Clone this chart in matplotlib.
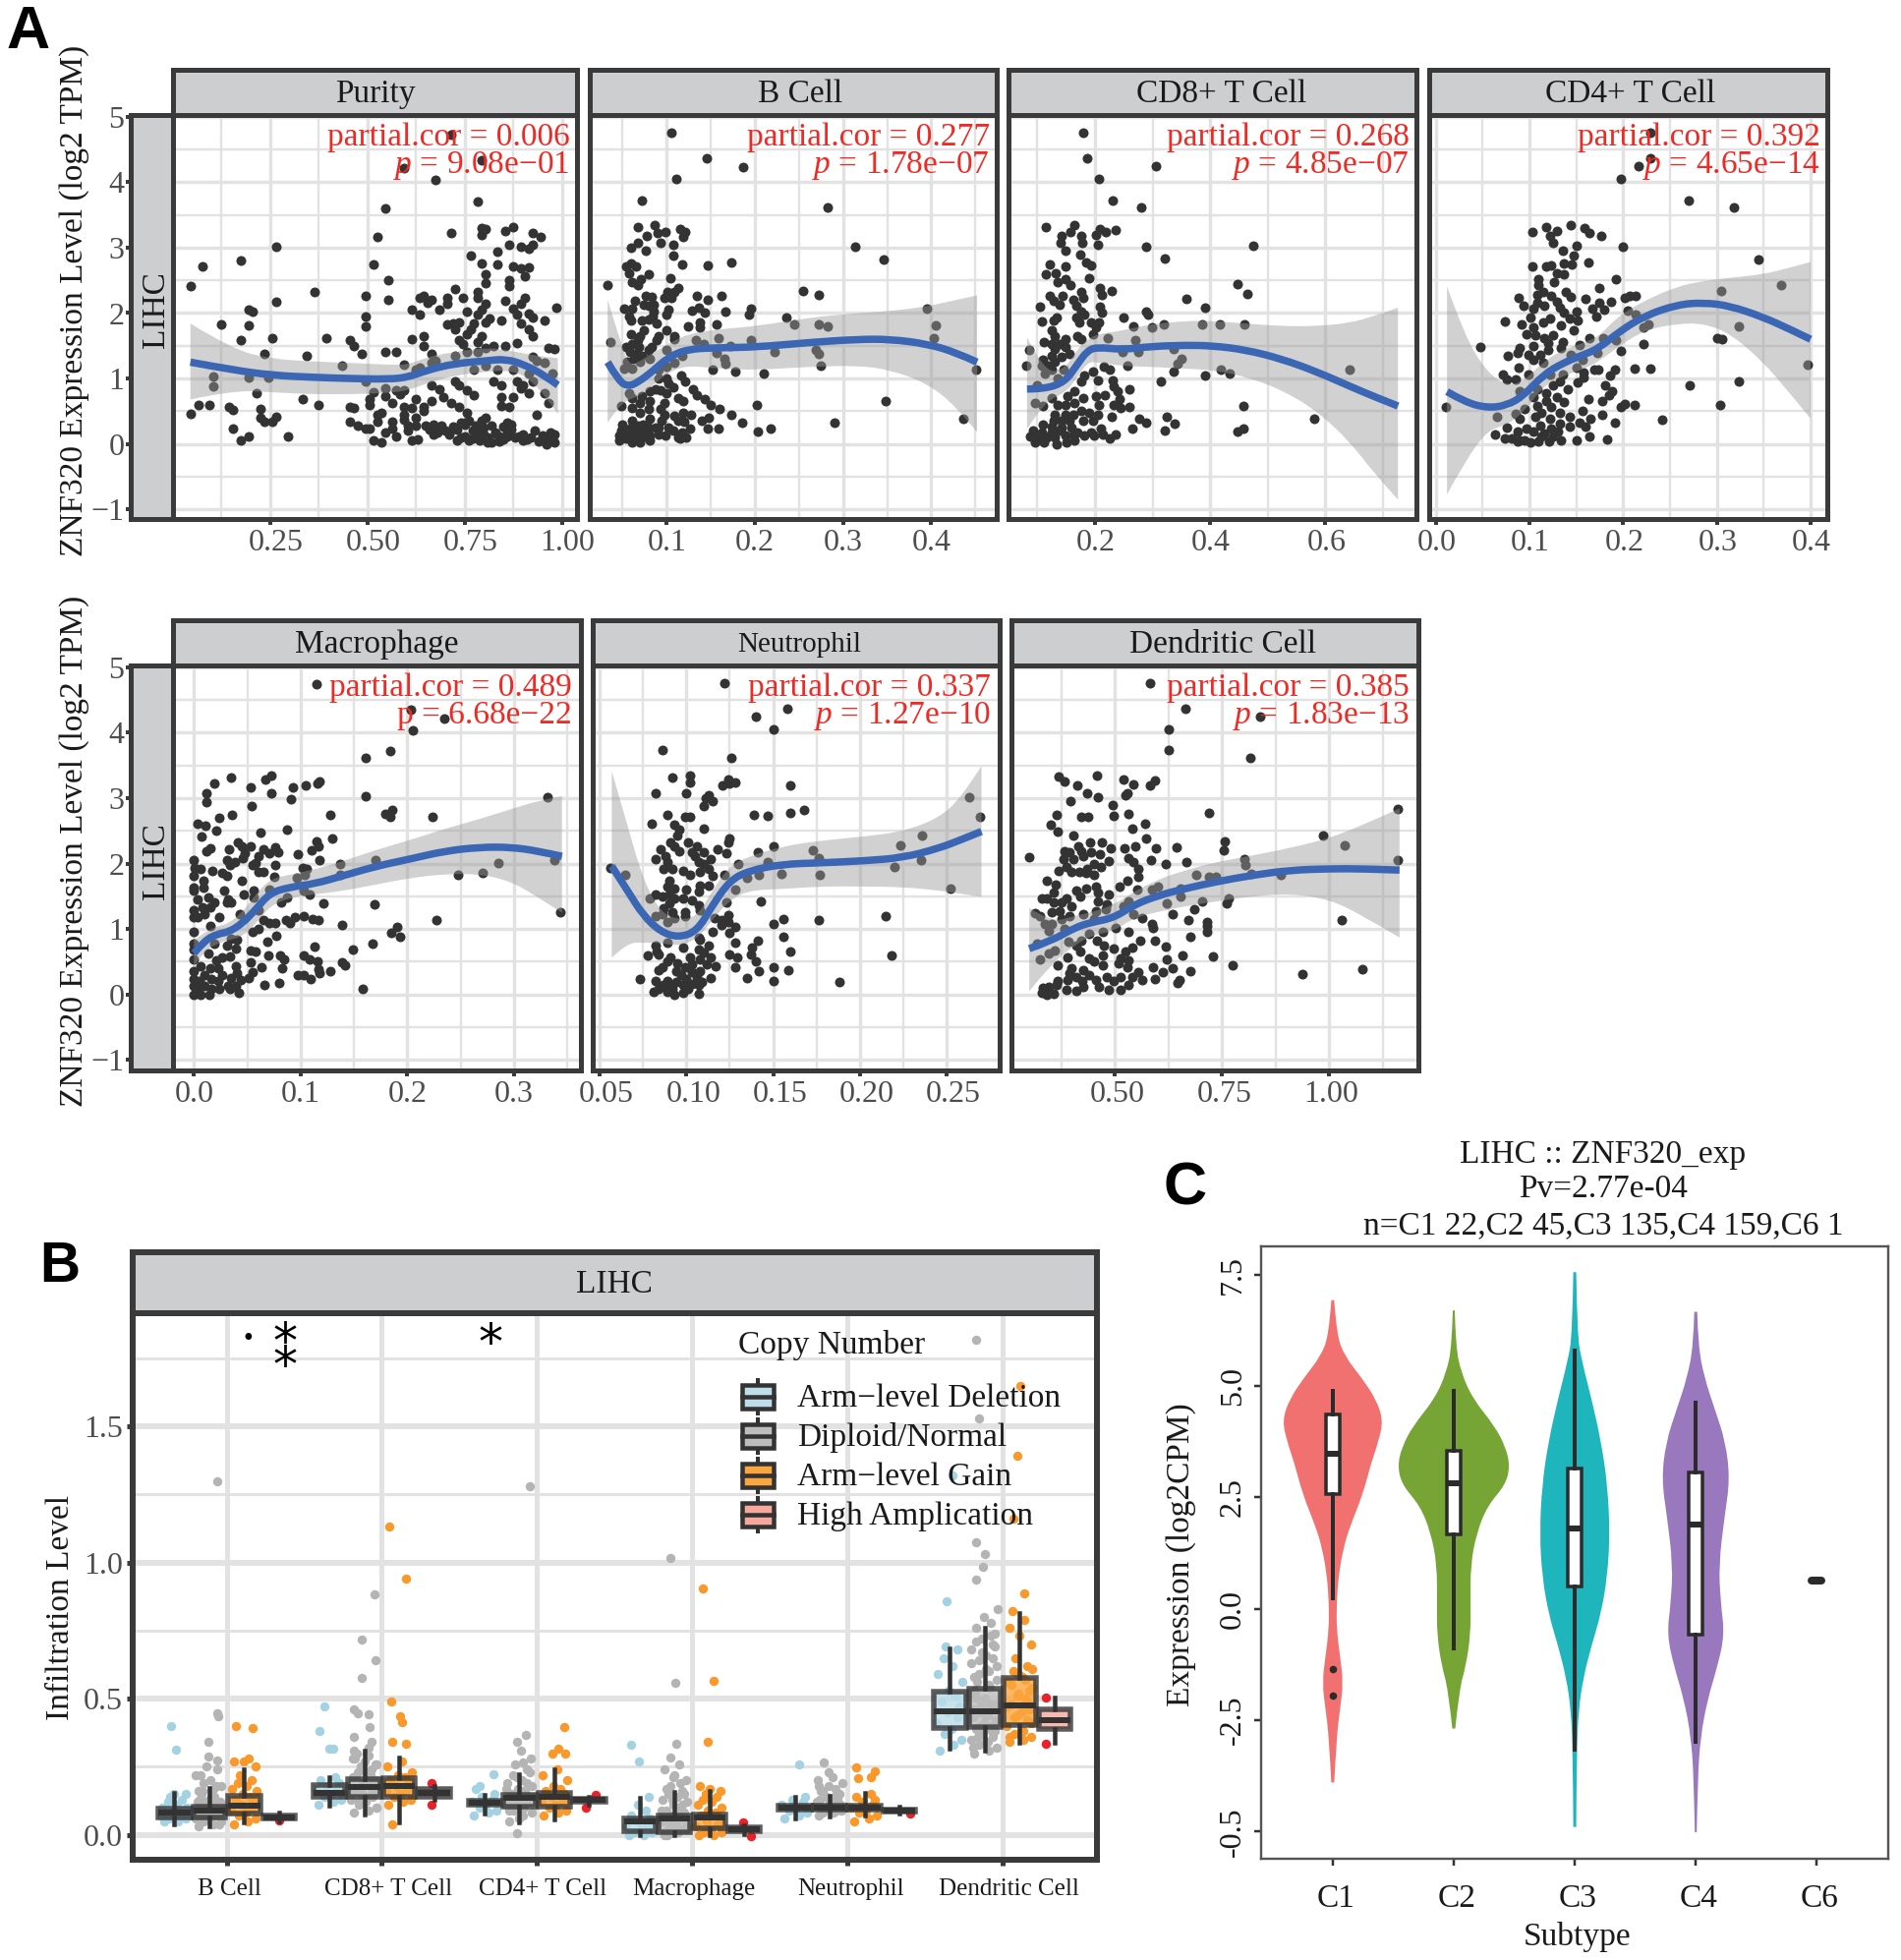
import matplotlib
matplotlib.use('Agg')
import matplotlib.pyplot as plt
from matplotlib.patches import Rectangle, PathPatch
from matplotlib.path import Path
from matplotlib.lines import Line2D
from matplotlib.transforms import ScaledTranslation

plt.rcParams['font.family'] = ['Liberation Serif', 'DejaVu Sans']
plt.rcParams['mathtext.fontset'] = 'custom'
plt.rcParams['mathtext.rm'] = 'Liberation Serif'
plt.rcParams['mathtext.it'] = 'Liberation Serif:italic'

# ---- panel A data
purity_pts = [(.045,2.42),(.075,2.71),(.045,.46),(.065,.59),(.095,.59),(.105,1.03),(.105,.88),(.125,1.82),(.145,.56),(.155,.52),(.155,.24),(.175,2.81),(.175,1.59),(.175,.06),(.195,2.06),(.205,2.02),(.195,1.81),(.195,.11),(.195,1.02),(.215,.78),(.225,.54),(.225,.4),(.235,1.38),(.235,.34),(.245,1.02),(.255,1.61),(.255,.34),(.265,3.01),(.265,2.18),(.265,.41),(.295,.11),(.335,.68),(.345,1.34),(.365,2.33),(.375,.6),(.395,1.61),(.435,1.2),(.455,1.59),(.465,1.5),(.485,1.38),(.455,.56),(.465,.55),(.455,.34),(.475,.28),(.495,2.27),(.495,1.94),(.495,1.8),(.495,.96),(.495,.23),(.505,.23),(.505,.59),(.515,2.74),(.525,3.16),(.545,3.6),(.555,2.51),(.555,2.2),(.545,1.41),(.575,1.41),(.595,4.21),(.675,4.03),(.715,4.72),(.795,4.34),(.785,3.7),(.715,3.22),(.795,3.3),(.805,3.28),(.795,3.19),(.855,3.25),(.875,3.32),(.925,3.22),(.945,3.16),(.865,3.05),(.835,2.94),(.895,3.02),(.925,3.05),(.915,2.98),(.765,2.88),(.795,2.76),(.835,2.74),(.875,2.71),(.915,2.7),(.895,2.68),(.805,2.6),(.805,2.46),(.865,2.51),(.865,2.42),(.905,2.57),(.725,2.37),(.785,2.32),(.785,2.23),(.745,2.24),(.635,2.24),(.645,2.26),(.665,2.21),(.655,2.16),(.705,2.23),(.705,2.15),(.615,2.06),(.635,1.98),(.685,2.05),(.755,2.03),(.805,2.15),(.795,2.05),(.785,1.97),(.855,2.19),(.905,2.23),(.895,2.15),(.875,2.07),(.885,1.98),(.985,2.09),(.915,1.99),(.925,1.93),(.955,1.88),(.895,1.84),(.915,1.75),(.925,1.65),(.845,1.88),(.815,1.91),(.805,1.86),(.775,1.84),(.765,1.75),(.705,1.82),(.72,1.84),(.735,1.85),(.725,1.75),(.755,1.67),(.795,1.64),(.785,1.55),(.615,1.6),(.645,1.65),(.645,1.5),(.735,1.58),(.745,1.53),(.665,1.38),(.755,1.41),(.805,1.47),(.825,1.49),(.855,1.5),(.885,1.54),(.965,1.47),(.98,1.45),(.725,1.34),(.785,1.41),(.595,1.21),(.665,1.24),(.675,1.27),(.625,1.13),(.635,1.16),(.775,1.13),(.805,1.19),(.835,1.13),(.875,1.13),(.925,1.33),(.935,1.27),(.955,1.24),(.975,1.07),(.915,1.07),(.825,.96),(.845,.89),(.885,.96),(.9,.9),(.925,.96),(.665,.9),(.725,.96),(.735,.9),(.755,.82),(.775,.75),(.685,.83),(.895,.85),(.915,.78),(.955,.78),(.875,.71),(.845,.72),(.695,.71),(.715,.63),(.735,.56),(.665,.65),(.645,.56),(.645,.5),(.625,.69),(.845,.58),(.865,.56),(.965,.62),(.935,.45),(.755,.48),(.805,.4),(.795,.36),(.515,.79),(.545,.85),(.575,.82),(.595,.82),(.505,.68),(.545,.73),(.585,.76),(.565,.62),(.595,.56),(.615,.55),(.535,.48),(.525,.45),(.595,.45),(.525,.34),(.565,.34),(.595,.37),(.625,.4),(.625,.28),(.605,.28),(.565,.23),(.545,.17),(.575,.11),(.605,.2),(.515,.06),(.535,.03),(.615,.06),(.63,.07),
    (.65,.28),(.66,.22),(.67,.3),(.68,.18),(.69,.25),(.70,.2),(.71,.15),(.72,.27),(.67,.14),(.69,.28),(.71,.17),(.73,.22),(.74,.1),(.75,.3),(.76,.05),(.77,.2),(.78,.12),(.79,.06),(.80,.25),(.81,.1),(.82,.02),(.83,.18),(.84,.04),(.85,.26),(.86,.12),(.87,.3),(.73,.05),(.75,.12),(.77,.08),(.79,.2),(.81,.03),(.83,.16),(.85,.07),(.87,.22),(.88,.1),(.89,.12),(.90,.15),(.91,.07),(.92,.1),(.93,.2),(.94,.04),(.95,.13),(.96,0),(.97,.18),(.98,.02),(.75,.32),(.78,.28),(.82,.28),(.86,.33),(.9,.05),(.95,.08),(.98,.15),(.74,.33),(.76,.35),(.8,.15),(.84,.12),(.86,.18),(.97,.07)]
purity_line_x = [.045,.155,.255,.355,.455,.555,.605,.655,.725,.805,.855,.905,.955,.99]
purity_fit = [1.25,1.13,1.05,1.02,1.0,.99,1.02,1.13,1.23,1.27,1.3,1.21,1.05,.9]
purity_hi = [1.84,1.44,1.3,1.26,1.24,1.21,1.21,1.33,1.41,1.47,1.44,1.38,1.33,1.31]
purity_lo = [.68,.82,.79,.76,.76,.78,.82,.93,1.05,1.1,1.13,1.05,.76,.46]

bcell_pts = [(.105,4.75),(.145,4.36),(.187,4.23),(.111,4.05),(.072,3.72),(.283,3.61),(.067,3.32),(.086,3.34),(.09,3.23),(.099,3.24),(.115,3.29),(.121,3.24),(.119,3.17),(.077,3.18),(.067,3.07),(.093,3.07),(.107,3.04),(.06,3.0),(.076,2.95),(.314,3.02),(.346,2.82),(.108,2.88),(.117,2.75),(.147,2.73),(.173,2.77),(.054,2.71),(.06,2.76),(.065,2.71),(.057,2.61),(.08,2.59),(.104,2.53),(.071,2.52),(.061,2.47),(.067,2.43),(.033,2.43),(.113,2.39),(.109,2.32),(.101,2.32),(.255,2.34),(.273,2.28),(.105,2.23),(.097,2.23),(.134,2.26),(.162,2.27),(.076,2.26),(.083,2.25),(.064,2.19),(.146,2.21),(.074,2.13),(.085,2.13),(.08,2.12),(.052,2.07),(.061,2.07),(.136,2.08),(.129,2.04),(.143,2.0),(.102,2.06),(.1,1.98),(.085,2.03),(.195,2.07),(.166,2.02),(.193,1.97),(.236,1.93),(.084,1.95),(.057,1.95),(.06,1.88),(.072,1.89),(.08,1.9),(.088,1.84),(.138,1.86),(.156,1.83),(.245,1.83),(.273,1.83),(.283,1.8),(.395,2.07),(.405,1.81),(.138,1.78),(.124,1.79),(.1,1.74),(.06,1.68),(.074,1.73),(.091,1.65),(.109,1.65),(.109,1.6),(.159,1.61),(.133,1.59),(.196,1.59),(.403,1.61),(.07,1.65),(.067,1.58),(.089,1.58),(.036,1.55),(.061,1.53),(.054,1.48),(.069,1.48),(.083,1.48),(.142,1.52),(.172,1.5),(.08,1.43),(.058,1.4),(.065,1.38),(.072,1.35),(.1,1.43),(.269,1.43),(.222,1.41),(.157,1.39),(.272,1.38),(.117,1.35),(.063,1.3),(.055,1.25),(.07,1.25),(.081,1.3),(.165,1.3),(.109,1.24),(.166,1.23),(.275,1.2),(.052,1.15),(.061,1.15),(.1,1.18),(.091,1.13),(.152,1.14),(.178,1.1),(.21,1.07),(.451,1.14),(.116,1.05),(.121,.95),(.091,1.0),(.1,1.0),(.102,.93),(.107,.86),(.13,.84),(.134,.75),(.087,.83),(.081,.8),(.093,.82),(.1,.77),(.057,.78),(.072,.73),(.113,.7),(.119,.65),(.143,.68),(.081,.65),(.061,.7),(.048,.58),(.061,.55),(.07,.63),(.097,.62),(.15,.6),(.16,.54),(.202,.6),(.348,.66),(.093,.53),(.08,.53),(.07,.48),(.097,.45),(.119,.48),(.128,.45),(.173,.45),(.109,.43),(.148,.4),(.14,.36),(.436,.39),(.081,.38),(.061,.35),(.094,.35),(.113,.35),(.12,.34),(.185,.33),(.29,.33),(.05,.3),(.073,.3),(.087,.25),(.102,.25),(.126,.24),(.146,.23),(.159,.24),(.218,.24),(.203,.19),(.048,.2),(.058,.23),(.067,.2),(.078,.2),(.108,.2),(.117,.18),(.046,.13),(.056,.13),(.063,.1),(.072,.1),(.081,.13),(.091,.15),(.098,.13),(.113,.1),(.122,.1),(.046,.05),(.054,.08),(.061,.02),(.07,.03),(.081,.05),(.115,.08),(.067,.28),(.08,.25),(.091,.25),(.058,.15),(.067,.13),(.074,.18)]
bcell_line_x = [.033,.046,.057,.068,.083,.102,.124,.157,.202,.261,.317,.354,.395,.428,.452]
bcell_fit = [1.25,.95,.88,.95,1.1,1.33,1.45,1.47,1.48,1.55,1.6,1.6,1.53,1.4,1.25]
bcell_hi = [2.2,1.63,1.2,1.25,1.38,1.53,1.68,1.75,1.8,1.93,2.0,2.03,2.1,2.2,2.27]
bcell_lo = [.33,.58,.68,.73,.88,1.1,1.2,1.15,1.13,1.18,1.2,1.13,.93,.58,.18]

cd8_pts = [(.18,4.75),(.186,4.36),(.305,4.24),(.207,4.05),(.231,3.72),(.28,3.62),(.114,3.32),(.164,3.34),(.157,3.24),(.142,3.18),(.176,3.18),(.201,3.2),(.209,3.29),(.219,3.24),(.236,3.27),(.14,3.07),(.178,3.07),(.205,3.05),(.149,2.95),(.289,3.01),(.475,3.03),(.322,2.83),(.175,2.89),(.121,2.75),(.149,2.71),(.185,2.78),(.194,2.73),(.115,2.6),(.132,2.61),(.189,2.53),(.148,2.52),(.135,2.48),(.158,2.43),(.447,2.44),(.209,2.39),(.229,2.34),(.212,2.28),(.464,2.29),(.176,2.32),(.179,2.24),(.144,2.26),(.122,2.26),(.128,2.19),(.162,2.21),(.358,2.22),(.139,2.13),(.168,2.12),(.105,2.1),(.391,2.08),(.209,2.1),(.212,2.0),(.288,2.02),(.292,1.97),(.176,2.03),(.182,1.98),(.249,1.93),(.168,1.93),(.133,1.93),(.107,1.87),(.128,1.88),(.173,1.85),(.194,1.85),(.207,1.85),(.266,1.8),(.299,1.78),(.319,1.82),(.386,1.83),(.417,1.83),(.46,1.83),(.202,1.78),(.125,1.73),(.196,1.68),(.17,1.65),(.13,1.65),(.176,1.6),(.222,1.61),(.27,1.59),(.148,1.6),(.112,1.55),(.125,1.53),(.139,1.53),(.148,1.48),(.13,1.45),(.086,1.43),(.336,1.45),(.247,1.41),(.275,1.41),(.156,1.38),(.125,1.35),(.142,1.33),(.35,1.3),(.11,1.28),(.13,1.25),(.344,1.22),(.108,1.2),(.119,1.2),(.081,1.2),(.256,1.2),(.216,1.18),(.225,1.14),(.642,1.14),(.418,1.14),(.125,1.13),(.145,1.14),(.196,1.1),(.113,1.08),(.337,1.1),(.434,1.07),(.391,1.04),(.182,1.05),(.136,1.0),(.176,.95),(.205,.97),(.23,.97),(.315,.95),(.099,.9),(.233,.88),(.239,.8),(.259,.83),(.165,.8),(.153,.73),(.217,.74),(.202,.73),(.179,.7),(.125,.7),(.242,.68),(.096,.63),(.109,.58),(.136,.6),(.148,.6),(.165,.63),(.458,.58),(.207,.6),(.233,.6),(.244,.55),(.259,.56),(.176,.5),(.19,.48),(.13,.45),(.148,.45),(.162,.45),(.205,.45),(.229,.42),(.324,.41),(.58,.39),(.276,.38),(.128,.35),(.142,.35),(.156,.35),(.179,.35),(.196,.35),(.289,.33),(.338,.31),(.11,.29),(.125,.27),(.142,.25),(.159,.25),(.21,.24),(.265,.24),(.457,.24),(.448,.19),(.321,.2),(.093,.21),(.108,.18),(.125,.18),(.139,.2),(.17,.18),(.193,.18),(.236,.15),(.213,.15),(.088,.12),(.102,.1),(.116,.1),(.13,.1),(.148,.13),(.162,.13),(.182,.13),(.199,.13),(.226,.08),(.096,.03),(.111,.02),(.133,0),(.15,.02),(.165,.05)]
cd8_line_x = [.082,.113,.148,.168,.187,.205,.247,.296,.358,.404,.461,.524,.586,.643,.683,.726]
cd8_fit = [.84,.84,.95,1.2,1.43,1.48,1.44,1.49,1.51,1.5,1.44,1.3,1.1,.88,.73,.58]
cd8_hi = [1.63,1.08,1.15,1.43,1.6,1.68,1.73,1.83,1.88,1.88,1.84,1.8,1.8,1.85,1.95,2.08]
cd8_lo = [.23,.65,.78,1.0,1.25,1.25,1.19,1.18,1.15,1.13,1.03,.83,.5,.03,-.43,-.85]

cd4_pts = [(.229,4.75),(.229,4.36),(.216,4.24),(.198,4.05),(.27,3.72),(.318,3.62),(.103,3.24),(.118,3.32),(.129,3.26),(.144,3.34),(.159,3.3),(.164,3.23),(.177,3.18),(.122,3.18),(.125,3.07),(.15,3.03),(.2,3.02),(.136,2.95),(.147,2.88),(.344,2.82),(.163,2.77),(.137,2.76),(.145,2.75),(.103,2.71),(.118,2.72),(.123,2.73),(.129,2.61),(.137,2.6),(.192,2.52),(.109,2.52),(.126,2.48),(.109,2.43),(.174,2.39),(.368,2.43),(.305,2.34),(.139,2.33),(.115,2.32),(.108,2.28),(.144,2.25),(.123,2.26),(.207,2.27),(.213,2.26),(.202,2.23),(.088,2.23),(.16,2.22),(.129,2.18),(.108,2.16),(.187,2.17),(.174,2.16),(.094,2.11),(.116,2.11),(.132,2.08),(.167,2.07),(.18,2.06),(.104,2.07),(.205,2.04),(.15,2.03),(.137,2.0),(.213,1.98),(.171,1.94),(.101,1.93),(.122,1.91),(.143,1.91),(.151,1.88),(.074,1.87),(.092,1.83),(.115,1.85),(.134,1.81),(.227,1.83),(.222,1.78),(.323,1.8),(.104,1.78),(.147,1.73),(.097,1.68),(.125,1.66),(.106,1.66),(.116,1.61),(.164,1.61),(.179,1.62),(.3,1.62),(.306,1.6),(.136,1.56),(.12,1.54),(.192,1.59),(.222,1.53),(.048,1.48),(.09,1.46),(.104,1.49),(.153,1.51),(.134,1.46),(.12,1.44),(.198,1.42),(.087,1.39),(.099,1.36),(.111,1.36),(.077,1.34),(.144,1.36),(.172,1.39),(.104,1.29),(.157,1.29),(.115,1.24),(.397,1.21),(.088,1.16),(.15,1.16),(.169,1.14),(.173,1.14),(.191,1.14),(.212,1.15),(.229,1.15),(.072,1.06),(.099,1.06),(.122,1.06),(.158,1.09),(.136,1.06),(.076,.98),(.085,.98),(.186,1.04),(.158,1.01),(.132,.96),(.151,.94),(.323,.96),(.271,.89),(.125,.89),(.181,.9),(.09,.81),(.141,.83),(.188,.81),(.108,.84),(.118,.78),(.185,.75),(.104,.71),(.129,.71),(.163,.69),(.178,.66),(.118,.66),(.137,.64),(.202,.61),(.212,.6),(.198,.56),(.303,.59),(.011,.57),(.108,.58),(.095,.54),(.123,.56),(.085,.46),(.113,.48),(.132,.47),(.157,.5),(.178,.44),(.065,.41),(.09,.38),(.106,.41),(.143,.41),(.165,.39),(.122,.38),(.242,.37),(.191,.32),(.153,.33),(.132,.31),(.076,.25),(.111,.28),(.143,.26),(.16,.26),(.097,.24),(.123,.24),(.063,.15),(.087,.19),(.104,.19),(.116,.16),(.13,.19),(.164,.11),(.074,.08),(.081,.09),(.09,.06),(.101,.03),(.109,.04),(.121,.04),(.134,.06),(.15,.05),(.183,.07),(.087,.04),(.095,.06),(.113,.11),(.125,.11)]
cd4_line_x = [.012,.031,.055,.076,.094,.115,.136,.157,.174,.195,.223,.258,.286,.314,.349,.377,.4]
cd4_fit = [.8,.64,.55,.59,.74,1.06,1.24,1.36,1.46,1.71,1.96,2.13,2.16,2.11,1.94,1.76,1.6]
cd4_hi = [2.41,1.64,1.09,.89,.96,1.26,1.44,1.54,1.64,1.96,2.19,2.41,2.49,2.54,2.59,2.69,2.78]
cd4_lo = [-.77,-.27,.21,.29,.49,.89,1.04,1.14,1.26,1.49,1.74,1.84,1.84,1.69,1.26,.79,.39]

macro_pts = [(.115,4.74),(.203,4.35),(.235,4.22),(.205,4.04),(.184,3.72),(.161,3.61),(.035,3.31),(.072,3.34),(.067,3.28),(.019,3.23),(.053,3.17),(.093,3.17),(.105,3.19),(.116,3.23),(.118,3.26),(.012,3.07),(.012,2.94),(.072,3.07),(.091,2.99),(.161,3.03),(.331,3.02),(.054,2.88),(.036,2.74),(.024,2.7),(.128,2.75),(.186,2.82),(.179,2.76),(.184,2.72),(.224,2.72),(.003,2.61),(.011,2.58),(.021,2.51),(.087,2.52),(.062,2.47),(.007,2.42),(.13,2.38),(.041,2.32),(.015,2.24),(.012,2.19),(.033,2.22),(.045,2.26),(.053,2.26),(.115,2.34),(.117,2.27),(.065,2.22),(.076,2.25),(.11,2.21),(.071,2.16),(.079,2.18),(.097,2.15),(.048,2.16),(.06,2.11),(.031,2.06),(.038,2.03),(.046,2.08),(0,2.05),(.118,2.05),(.058,2.01),(.034,1.98),(.076,1.97),(.055,1.98),(.137,1.99),(.17,2.05),(.285,2.01),(.338,2.06),(.001,1.93),(.006,1.91),(.017,1.88),(.026,1.86),(.06,1.87),(.065,1.87),(.102,1.93),(.106,1.92),(.248,1.83),(.271,1.85),(.137,1.83),(.096,1.78),(.104,1.82),(.075,1.79),(0,1.81),(.031,1.81),(.045,1.73),(.009,1.73),(.009,1.63),(0,1.63),(0,1.58),(.028,1.59),(.056,1.58),(.071,1.6),(.047,1.53),(.056,1.48),(.103,1.58),(.108,1.52),(.013,1.48),(.003,1.45),(.032,1.45),(.035,1.41),(.019,1.4),(.031,1.4),(.087,1.48),(.082,1.41),(.121,1.39),(.169,1.38),(.008,1.33),(.015,1.33),(0,1.28),(0,1.18),(.01,1.23),(.003,1.18),(.024,1.18),(.043,1.23),(.06,1.28),(.095,1.18),(.103,1.2),(.111,1.15),(.117,1.14),(.086,1.14),(.227,1.13),(.343,1.26),(.065,1.13),(.071,1.09),(.076,1.09),(.09,1.09),(.015,1.05),(.139,1.06),(.06,1.0),(.055,.95),(0,.95),(.19,1.03),(.185,.94),(.193,.88),(.077,.89),(.035,.85),(.069,.81),(.04,.83),(.019,.78),(0,.78),(.031,.74),(.167,.78),(.113,.73),(.039,.7),(.149,.69),(0,.68),(.053,.67),(.058,.66),(.013,.63),(.07,.59),(.081,.59),(.103,.6),(.026,.56),(.034,.58),(0,.53),(.084,.54),(.108,.54),(.116,.51),(.021,.52),(.053,.49),(.139,.49),(.142,.45),(.039,.43),(.006,.43),(.083,.4),(.063,.42),(.015,.4),(.023,.4),(0,.35),(.117,.39),(.128,.35),(.055,.34),(.04,.33),(.118,.32),(.097,.29),(.103,.3),(.01,.3),(.026,.3),(.051,.25),(.035,.25),(.109,.24),(0,.23),(.016,.23),(.044,.22),(.005,.2),(.023,.2),(.066,.14),(.08,.18),(.032,.13),(0,.13),(.01,.13),(.024,.08),(.039,.13),(.003,.08),(.016,.08),(.158,.08),(0,0),(.006,0),(.014,0),(.042,.03),(.034,.08)]
macro_line_x = [0,.01,.023,.032,.045,.058,.071,.09,.113,.139,.171,.203,.235,.268,.297,.323,.345]
macro_fit = [.63,.83,.93,.95,1.08,1.3,1.55,1.64,1.69,1.81,1.96,2.07,2.19,2.25,2.25,2.19,2.11]
macro_hi = [.83,.95,1.05,1.08,1.25,1.53,1.76,1.83,1.91,2.03,2.21,2.36,2.53,2.68,2.83,2.96,3.03]
macro_lo = [.43,.68,.78,.83,.88,1.08,1.35,1.48,1.53,1.58,1.68,1.78,1.84,1.84,1.73,1.48,1.25]

neutro_pts = [(.122,4.75),(.158,4.36),(.14,4.24),(.15,4.05),(.086,3.73),(.126,3.62),(.092,3.32),(.102,3.34),(.102,3.24),(.124,3.28),(.125,3.23),(.128,3.24),(.121,3.2),(.16,3.19),(.082,3.07),(.1,3.07),(.113,3.04),(.111,3.0),(.115,2.95),(.11,2.88),(.263,3.02),(.168,2.82),(.269,2.72),(.089,2.75),(.099,2.71),(.102,2.72),(.139,2.75),(.147,2.73),(.16,2.77),(.08,2.61),(.093,2.59),(.11,2.53),(.096,2.52),(.095,2.43),(.236,2.43),(.125,2.38),(.091,2.32),(.101,2.32),(.124,2.32),(.093,2.27),(.106,2.26),(.15,2.26),(.223,2.28),(.085,2.22),(.096,2.19),(.103,2.18),(.118,2.22),(.123,2.16),(.141,2.18),(.173,2.21),(.11,2.17),(.088,2.11),(.105,2.11),(.082,2.07),(.114,2.07),(.089,2.03),(.107,2.03),(.11,2.0),(.176,2.08),(.235,2.05),(.147,2.02),(.13,2.0),(.056,1.93),(.087,1.91),(.092,1.91),(.098,1.88),(.113,1.91),(.108,1.87),(.22,1.94),(.065,1.82),(.102,1.82),(.115,1.81),(.122,1.82),(.155,1.84),(.177,1.83),(.142,1.82),(.135,1.78),(.09,1.73),(.113,1.66),(.108,1.66),(.089,1.64),(.093,1.61),(.252,1.62),(.128,1.6),(.1,1.6),(.107,1.57),(.082,1.53),(.09,1.53),(.079,1.47),(.086,1.49),(.093,1.46),(.098,1.46),(.103,1.44),(.143,1.42),(.123,1.4),(.09,1.39),(.107,1.36),(.087,1.31),(.099,1.26),(.092,1.26),(.108,1.29),(.086,1.23),(.215,1.2),(.082,1.2),(.099,1.19),(.093,1.16),(.156,1.15),(.176,1.14),(.124,1.21),(.116,1.16),(.12,1.14),(.124,1.11),(.15,1.07),(.089,1.11),(.12,1.06),(.128,1.03),(.125,.94),(.115,.95),(.156,.88),(.107,.86),(.141,.82),(.128,.79),(.108,.84),(.089,.79),(.082,.75),(.113,.74),(.138,.71),(.107,.68),(.098,.71),(.083,.66),(.16,.66),(.11,.64),(.078,.6),(.084,.61),(.137,.61),(.125,.61),(.218,.59),(.091,.57),(.102,.57),(.129,.56),(.114,.56),(.108,.53),(.14,.5),(.089,.51),(.095,.48),(.117,.43),(.112,.46),(.103,.46),(.086,.41),(.128,.41),(.15,.42),(.099,.41),(.084,.37),(.159,.37),(.142,.35),(.094,.36),(.108,.36),(.103,.34),(.097,.3),(.135,.25),(.073,.24),(.114,.25),(.106,.26),(.082,.21),(.089,.21),(.094,.19),(.1,.24),(.15,.2),(.188,.19),(.109,.19),(.103,.16),(.087,.14),(.092,.14),(.098,.14),(.107,.14),(.081,.04),(.084,.09),(.089,.04),(.093,0),(.098,.03),(.101,.09),(.107,.01),(.1,.16),(.092,.09)]
neutro_line_x = [.057,.066,.075,.085,.095,.106,.115,.125,.136,.155,.177,.202,.225,.245,.258,.27]
neutro_fit = [1.96,1.59,1.21,.96,.87,.96,1.36,1.74,1.89,1.99,2.01,2.04,2.09,2.23,2.36,2.49]
neutro_hi = [3.41,2.59,1.76,1.26,1.14,1.18,1.59,1.96,2.11,2.26,2.35,2.41,2.49,2.69,2.99,3.49]
neutro_lo = [.56,.79,.79,.79,.74,.84,1.14,1.44,1.59,1.61,1.65,1.65,1.64,1.59,1.54,1.49]

dend_pts = [(.581,4.76),(.664,4.36),(.839,4.24),(.625,4.05),(.625,3.73),(.815,3.62),(.369,3.33),(.383,3.25),(.459,3.35),(.519,3.29),(.542,3.21),(.593,3.27),(.583,3.19),(.412,3.19),(.434,3.08),(.528,3.08),(.524,3.04),(.461,3.01),(.396,2.95),(.494,2.89),(.719,2.78),(1.161,2.83),(.365,2.75),(.421,2.71),(.437,2.71),(.498,2.73),(.532,2.76),(.351,2.59),(.57,2.61),(.366,2.49),(.54,2.53),(.402,2.43),(.985,2.43),(.573,2.39),(.441,2.33),(.469,2.32),(.756,2.34),(1.037,2.28),(.414,2.27),(.547,2.27),(.643,2.25),(.49,2.23),(.522,2.23),(.596,2.23),(.383,2.19),(.421,2.19),(.444,2.17),(.466,2.15),(.394,2.17),(.754,2.21),(.299,2.1),(.379,2.07),(.402,2.07),(.425,2.12),(.532,2.08),(.486,2.04),(.585,2.06),(.802,2.07),(1.159,2.06),(.544,2.02),(.452,2.0),(.618,2.0),(.666,2.02),(.805,1.97),(.467,1.95),(.436,1.92),(.555,1.92),(.387,1.95),(.368,1.89),(.399,1.87),(.417,1.87),(.433,1.86),(.689,1.83),(.819,1.84),(.719,1.8),(.735,1.79),(.888,1.82),(.554,1.8),(.452,1.82),(.341,1.74),(.528,1.74),(.362,1.67),(.51,1.65),(.601,1.65),(.586,1.6),(.433,1.61),(.41,1.59),(.456,1.65),(.551,1.6),(.654,1.62),(.356,1.55),(.46,1.56),(.418,1.5),(.486,1.52),(.33,1.46),(.341,1.47),(.387,1.47),(.654,1.49),(.46,1.42),(.532,1.42),(.356,1.41),(.375,1.4),(.765,1.47),(.703,1.42),(.621,1.39),(.76,1.39),(.482,1.37),(.398,1.34),(.52,1.35),(.685,1.3),(.314,1.24),(.325,1.2),(.352,1.25),(.371,1.27),(.456,1.27),(.479,1.3),(.635,1.23),(.394,1.2),(.425,1.22),(.544,1.22),(.375,1.15),(.452,1.15),(.563,1.16),(1.028,1.14),(.672,1.13),(.336,1.07),(.352,1.07),(.586,1.07),(.589,1.02),(.716,1.1),(.716,1.05),(.716,.96),(.502,1.02),(.345,.97),(.383,1.0),(.532,.95),(.677,.88),(.44,.92),(.471,.95),(.559,.82),(.593,.82),(.391,.8),(.421,.82),(.457,.82),(.318,.77),(.41,.75),(.619,.73),(.475,.75),(.54,.72),(.36,.67),(.498,.7),(.418,.65),(.524,.65),(.345,.62),(.471,.6),(.657,.6),(.729,.58),(.325,.54),(.389,.56),(.44,.55),(.513,.55),(.62,.53),(.532,.52),(.452,.5),(.509,.47),(.366,.45),(.471,.45),(.774,.44),(.398,.4),(.528,.42),(.588,.42),(.634,.4),(1.078,.38),(.425,.37),(.677,.36),(.937,.31),(.612,.34),(.555,.34),(.394,.32),(.482,.27),(.44,.3),(.41,.27),(.54,.27),(.513,.27),(.593,.23),(.651,.22),(.563,.22),(.367,.2),(.39,.22),(.456,.22),(.647,.17),(.423,.2),(.498,.2),(.532,.15),(.333,.1),(.345,.12),(.364,.15),(.387,.07),(.41,.05),(.425,.12),(.463,.11),(.486,.07),(.513,.07),(.329,.02),(.341,0),(.356,.01)]
dend_line_x = [.3,.352,.406,.444,.498,.544,.605,.666,.735,.819,.911,1.002,1.079,1.164]
dend_fit = [.7,.82,1.02,1.1,1.17,1.37,1.52,1.62,1.72,1.82,1.9,1.92,1.92,1.9]
dend_hi = [1.32,1.1,1.2,1.25,1.37,1.57,1.77,1.9,2.02,2.12,2.24,2.39,2.59,2.84]
dend_lo = [.05,.47,.75,.9,.97,1.17,1.27,1.35,1.42,1.5,1.54,1.45,1.2,.87]

# ---- panel B data
cells = ['B Cell', 'CD8+ T Cell', 'CD4+ T Cell', 'Macrophage', 'Neutrophil', 'Dendritic Cell']
copy_groups = ['Arm\u2212level Deletion', 'Diploid/Normal', 'Arm\u2212level Gain', 'High Amplication']

del_q1 = [.065,.138,.109,.012,.094,.391]
del_med = [.08,.152,.118,.05,.1,.453]
del_q3 = [.096,.181,.125,.059,.108,.526]
del_lo = [.04,.108,.077,0,.061,.317]
del_hi = [.155,.213,.146,.134,.139,.683]
dip_q1 = [.065,.14,.105,.011,.094,.396]
dip_med = [.09,.174,.135,.06,.1,.453]
dip_q3 = [.104,.204,.148,.069,.108,.535]
dip_lo = [.03,.073,.047,0,.068,.308]
dip_hi = [.172,.308,.221,.157,.143,.761]
gain_q1 = [.079,.14,.105,.025,.091,.404]
gain_med = [.108,.178,.14,.064,.1,.474]
gain_q3 = [.143,.207,.155,.073,.108,.575]
gain_lo = [.047,.044,.056,0,.07,.338]
gain_hi = [.239,.282,.242,.16,.152,.814]
high_q1 = [.061,.138,.121,.012,.087,.387]
high_med = [.065,.155,.127,.02,.09,.42]
high_q3 = [.069,.169,.132,.026,.094,.46]
high_lo = [.05,.129,.112,.003,.078,.338]
high_hi = [.08,.178,.141,.035,.103,.503]

del_cloud = [
    [.05,.05,.06,.06,.06,.07,.07,.07,.08,.08,.09,.09,.1,.1,.11,.12,.13,.14,.15,.15],
    [.11,.12,.13,.14,.15,.16,.17,.18,.19,.2,.21],
    [.07,.08,.09,.1,.11,.12,.13,.14,.15,.17],
    [0,0,.01,.01,.02,.03,.04,.05,.06,.07,.09,.11],
    [.06,.07,.08,.09,.1,.11,.12,.13,.14],
    [.31,.33,.35,.37,.39,.41,.43,.45,.47,.49,.51,.53,.56,.59,.62,.65,.68,.69]]
dip_cloud = [
    [.03,.04,.05,.05,.06,.06,.07,.07,.08,.08,.08,.09,.09,.1,.1,.11,.11,.12,.12,.13,.13,.14,.15,.16,.17,.18,.19,.2,.22,.24,.25,.04,.06,.07,.09,.1,.12,.14,.16,.18],
    [.08,.09,.1,.11,.12,.13,.14,.15,.16,.17,.18,.19,.2,.21,.22,.23,.24,.25,.26,.27,.28,.29,.3,.31,.32,.1,.12,.14,.15,.16,.18,.2,.21,.22,.24,.26,.28,.3],
    [.05,.07,.08,.09,.1,.11,.12,.13,.14,.15,.16,.17,.18,.19,.2,.22,.24,.26,.28,.06,.09,.1,.11,.12,.13,.14,.15,.16,.17,.19,.21,.23],
    [0,.01,.02,.03,.04,.05,.06,.07,.08,.09,.1,.11,.12,.13,.14,.15,.16,.18,.2,.22,.24,.26,0,.01,.02,.03,.05,.07,.09,.11,.13,.15,.17,.19,.21],
    [.07,.08,.09,.1,.11,.12,.13,.14,.15,.16,.17,.18,.19,.2,.21,.08,.09,.1,.11,.12,.13,.14,.16,.18],
    [.3,.31,.32,.33,.34,.35,.36,.37,.38,.39,.4,.41,.42,.43,.44,.45,.46,.47,.48,.5,.52,.54,.56,.58,.6,.62,.64,.66,.68,.7,.72,.74,.76,.78,.8,.83,.32,.34,.36,.38,.4,.42,.44,.46,.48,.5,.53,.55,.57,.59,.61,.63,.65,.67,.69,.71,.73]]
gain_cloud = [
    [.04,.05,.06,.07,.08,.09,.1,.11,.12,.13,.14,.15,.16,.17,.18,.19,.2,.22,.25,.27,.27,.28],
    [.11,.12,.13,.14,.15,.16,.17,.18,.19,.2,.21,.22,.23,.25,.27,.04],
    [.07,.08,.09,.1,.11,.12,.13,.14,.15,.16,.17,.18,.2,.22,.24],
    [0,0,.01,.01,.02,.03,.04,.05,.06,.07,.08,.09,.1,.11,.12,.13,.14,.15,.16,.17,.18],
    [.05,.06,.07,.08,.09,.1,.11,.12,.13,.14,.15],
    [.34,.35,.36,.37,.38,.4,.42,.44,.46,.48,.5,.52,.54,.56,.58,.6,.62,.65,.7,.73,.76,.79,.82,.36,.38,.41,.43,.45,.47,.49,.51,.53,.55,.57,.59,.61]]
jitter = [-.8,.3,.9,-.4,.1,-1,.6,-.2,.75,-.65,.45,-.1,.95,-.9,.2,-.5,.55,-.3,.85,0,-.75,.35,-.55]

del_extra = [(-.36,.40),(-.33,.312),(.63,.472),(.6,.382),(.66,.317),(.69,.317),(1.72,.221),(1.63,.178),(2.61,.329),(2.66,.268),(2.72,.138),(3.69,.258),(4.64,.857),(4.68,1.319)]
dip_extra = [(-.064,1.30),(-.064,.448),(-.055,.434),(-.12,.343),(-.12,.286),(-.17,.218),(-.06,.274),(.95,.883),(.87,.718),(.96,.64),(.87,.577),(.82,.46),(.845,.448),(.913,.444),(.92,.395),(.82,.36),(.936,.343),(1.955,1.279),(1.93,.366),(1.87,.343),(1.895,.308),(1.91,.265),(1.87,.007),(2.863,1.016),(2.895,.559),(2.9,.334),(2.863,.282),(3.85,.265),(3.88,.23),(4.83,1.819),(4.85,1.531),(4.83,1.075),(4.886,1.031),(4.877,.983),(4.83,.936)]
gain_extra = [(.06,.40),(.17,.392),(1.05,1.132),(1.155,.94),(1.064,.488),(1.12,.434),(1.13,.413),(1.07,.343),(1.155,.334),(2.174,.394),(2.137,.317),(2.1,.3),(2.18,.3),(3.07,.904),(3.14,.566),(3.1,.34),(4.06,.247),(4.18,.233),(4.07,.207),(4.155,.213),(5.114,1.65),(5.1,1.392),(5.07,1.162),(5.144,.887)]
high_extra = [(.34,.052),(1.32,.11),(1.32,.19),(2.315,.10),(2.38,.148),(3.38,-.005),(3.33,.044),(4.406,.078),(5.28,.503),(5.28,.334)]

# ---- panel C data
subtypes = ['C1', 'C2', 'C3', 'C4', 'C6']
c1_y = [6.93,6.15,5.67,5.19,4.71,4.23,3.75,3.27,2.55,1.83,1.35,.75,.14,-.46,-1.06,-1.66,-2.26,-2.86,-3.9]
c1_w = [.012,.032,.10,.238,.357,.417,.377,.317,.246,.139,.087,.048,.032,.032,.06,.087,.06,.032,.012]
c2_y = [6.7,5.91,5.31,4.71,4.11,3.63,3.21,2.79,2.31,1.71,.99,.14,-.58,-1.3,-1.78,-2.69]
c2_w = [.008,.016,.06,.159,.337,.429,.464,.429,.278,.19,.139,.139,.139,.099,.048,.012]
c3_y = [7.56,6.15,5.55,4.71,3.75,2.79,1.7,.75,-.1,-.82,-1.54,-2.26,-3.22,-4.9]
c3_w = [.012,.02,.06,.139,.218,.27,.29,.27,.218,.139,.071,.032,.016,.012]
c4_y = [6.67,5.91,5.19,4.47,3.75,2.91,2.07,.99,.14,-.58,-1.3,-2.02,-2.86,-3.82,-5.02]
c4_w = [.012,.02,.071,.159,.246,.282,.238,.19,.206,.238,.179,.099,.04,.016,.008]
sub_q1 = [2.57,1.68,.5,-.58]
sub_med = [3.49,2.81,1.8,1.89]
sub_q3 = [4.37,3.55,3.15,3.06]
sub_lo = [.23,-.88,-3.16,-2.98]
sub_hi = [4.89,4.89,5.79,4.62]
c1_outliers = [-1.36,-1.94]
c6_value = .64

W, H = 1934, 1994
DARK = '#3a3a3a'
STRIP = '#cdced0'
GRID = '#e2e2e2'
TICK_GREY = '#4d4d4d'
px = 0.72  # points per pixel at dpi 100

fig = plt.figure(figsize=(W / 100, H / 100), dpi=100, facecolor='white')


def add_axes(left, top, right, bottom):
    return fig.add_axes([left / W, 1 - bottom / H, (right - left) / W, (bottom - top) / H])


def fx(x):
    return x / W


def fy(y):
    return 1 - y / H


def frame(ax, lw=5):
    for s in ax.spines.values():
        s.set_linewidth(lw * px)
        s.set_color(DARK)


def curve(xs, ys):
    # quadratic curve using the read points as control points
    verts = [(xs[0], ys[0])]
    codes = [Path.LINETO]
    for i in range(1, len(xs) - 1):
        verts.append((xs[i], ys[i]))
        codes.append(Path.CURVE3)
        if i < len(xs) - 2:
            verts.append(((xs[i] + xs[i + 1]) / 2, (ys[i] + ys[i + 1]) / 2))
        else:
            verts.append((xs[-1], ys[-1]))
        codes.append(Path.CURVE3)
    return verts, codes


def band(xs1, ys1, xs2, ys2):
    v1, c1 = curve(xs1, ys1)
    v2, c2 = curve(xs2[::-1], ys2[::-1])
    c1 = [Path.MOVETO] + c1[1:]
    return Path(v1 + v2 + [v1[0]], c1 + c2 + [Path.CLOSEPOLY])


def strip_top(left, top, right, bottom, label, size=24, lw=5, tdx=0, tdy=1):
    ax = add_axes(left, top, right, bottom)
    ax.set_facecolor(STRIP)
    ax.set_xticks([])
    ax.set_yticks([])
    frame(ax, lw)
    fig.text(fx((left + right) / 2 + tdx), fy((top + bottom) / 2 + tdy), label, ha='center', va='center',
             fontsize=size, color='#1a1a1a', zorder=6)


def scatter_panel(box, row_y0, x_cal, ticks, tick_labels, minors, pts, line_x, fit, hi, lo, title, cor, pval,
                  title_size=24, title_dx=0, dx=0, italic=True, strip_left=None):
    left, right = box
    top, bottom = (117, 528) if row_y0 < 500 else (677, 1089)
    text_inset = 7 if row_y0 < 500 else 9
    strip_top(left, top - 46, right, top, title, title_size, tdx=title_dx, tdy=2)
    ax = add_axes(left, top, right, bottom)
    x0, xp, xs = x_cal
    ax.set_xlim(x0 + (left - xp) / xs, x0 + (right - xp) / xs)
    ax.set_ylim((row_y0 - bottom) / 66.6, (row_y0 - top) / 66.6)
    ax.set_xticks(ticks)
    ax.set_xticklabels(tick_labels, fontsize=23, color=TICK_GREY)
    ax.set_xticks(minors, minor=True)
    ax.set_yticks([-1, 0, 1, 2, 3, 4, 5])
    ax.set_yticks([-.5, .5, 1.5, 2.5, 3.5, 4.5], minor=True)
    ax.tick_params(axis='x', which='major', length=6 * px, width=4 * px, color=DARK, pad=3)
    ax.tick_params(axis='both', which='minor', length=0)
    ax.tick_params(axis='y', which='major', length=0, labelleft=False)
    ax.grid(which='major', color=GRID, lw=3.4 * px)
    ax.grid(which='minor', color=GRID, lw=2.4 * px)
    ax.set_axisbelow(True)
    frame(ax)
    for lab in ax.get_xticklabels():
        lab.set_transform(lab.get_transform() + ScaledTranslation(dx / 100, 0, fig.dpi_scale_trans))
    ax.scatter([p[0] for p in pts], [p[1] for p in pts], s=52, color='#333333', linewidths=0, zorder=3)
    ax.add_patch(PathPatch(band(line_x, hi, line_x, lo), facecolor='#999999', edgecolor='none', alpha=.45, zorder=4))
    v, c = curve(line_x, fit)
    ax.add_patch(PathPatch(Path(v, [Path.MOVETO] + c[1:]), fill=False, edgecolor='#3b66b4', lw=7.5 * px,
                           capstyle='butt', zorder=5))
    p_txt = (r'$\mathit{p}$' if italic else 'p') + ' = ' + pval
    fig.text(fx(right - text_inset), fy(top + 31), 'partial.cor = ' + cor, color='#ee2a24', fontsize=24, ha='right', va='baseline', zorder=6)
    fig.text(fx(right - text_inset), fy(top + 59), p_txt, color='#ee2a24', fontsize=24, ha='right', va='baseline', zorder=6)
    if strip_left is not None:
        sx = add_axes(strip_left, top, left, bottom)
        sx.set_facecolor(STRIP)
        sx.set_xticks([])
        sx.set_ylim(ax.get_ylim())
        sx.set_yticks([-1, 0, 1, 2, 3, 4, 5])
        sx.set_yticklabels(['\u22121', '0', '1', '2', '3', '4', '5'], fontsize=23, color=TICK_GREY)
        sx.tick_params(axis='y', length=5 * px, width=4 * px, color=DARK, pad=1)
        frame(sx)
        fig.text(fx(159), fy((top + bottom) / 2 - 7), 'LIHC', rotation=90, ha='center', va='center', fontsize=24, color='#1a1a1a')
        fig.text(fx(76), fy((top + bottom) / 2 - 17), 'ZNF320 Expression Level (log2 TPM)', rotation=90,
                 ha='center', va='center', fontsize=24, color='#1a1a1a')


scatter_panel((176, 587), 451.7, (.25, 274.8, 395.6), [.25, .5, .75, 1], ['0.25', '0.50', '0.75', '1.00'],
              [.125, .375, .625, .875], purity_pts, purity_line_x, purity_fit, purity_hi, purity_lo,
              'Purity', '0.006', '9.08e\u221201', dx=6, strip_left=133)
scatter_panel((600, 1014), 451.7, (.1, 678.3, 897), [.1, .2, .3, .4], ['0.1', '0.2', '0.3', '0.4'],
              [.05, .15, .25, .35, .45], bcell_pts, bcell_line_x, bcell_fit, bcell_hi, bcell_lo,
              'B Cell', '0.277', '1.78e\u221207', title_dx=7)
scatter_panel((1026, 1441), 451.7, (.2, 1114, 586), [.2, .4, .6], ['0.2', '0.4', '0.6'],
              [.1, .3, .5, .7], cd8_pts, cd8_line_x, cd8_fit, cd8_hi, cd8_lo,
              'CD8+ T Cell', '0.268', '4.85e\u221207', title_dx=9, dx=1)
scatter_panel((1454, 1859), 451.7, (0, 1460.7, 953.3), [0, .1, .2, .3, .4], ['0.0', '0.1', '0.2', '0.3', '0.4'],
              [.05, .15, .25, .35], cd4_pts, cd4_line_x, cd4_fit, cd4_hi, cd4_lo,
              'CD4+ T Cell', '0.392', '4.65e\u221214', title_dx=2, dx=1)
scatter_panel((176, 591), 1011.7, (0, 197.4, 1085), [0, .1, .2, .3], ['0.0', '0.1', '0.2', '0.3'],
              [.05, .15, .25, .35], macro_pts, macro_line_x, macro_fit, macro_hi, macro_lo,
              'Macrophage', '0.489', '6.68e\u221222', italic=False, strip_left=133)
scatter_panel((603, 1017), 1011.7, (.05, 610, 1766), [.05, .1, .15, .2, .25], ['0.05', '0.10', '0.15', '0.20', '0.25'],
              [.075, .125, .175, .225], neutro_pts, neutro_line_x, neutro_fit, neutro_hi, neutro_lo,
              'Neutrophil', '0.337', '1.27e\u221210', title_size=21, title_dx=3, dx=7)
scatter_panel((1029, 1443), 1011.7, (.5, 1134.3, 436), [.5, .75, 1], ['0.50', '0.75', '1.00'],
              [.375, .625, .875, 1.125], dend_pts, dend_line_x, dend_fit, dend_hi, dend_lo,
              'Dendritic Cell', '0.385', '1.83e\u221213', title_dx=8, dx=2)

# ---- panel B
strip_top(135, 1274, 1116, 1336, 'LIHC', lw=6, tdx=-1, tdy=2)
axb = add_axes(135, 1336, 1116, 1892)
axb.set_xlim((135 - 230.6) / 157.8, (1116 - 230.6) / 157.8)
axb.set_ylim((1866.6 - 1892) / 277, (1866.6 - 1336) / 277)
axb.set_xticks(range(len(cells)))
axb.set_xticklabels(cells, fontsize=18, color='#1a1a1a')
axb.set_yticks([0, .5, 1, 1.5])
axb.set_yticklabels(['0.0', '0.5', '1.0', '1.5'], fontsize=23, color=TICK_GREY)
axb.set_yticks([.25, .75, 1.25, 1.75], minor=True)
axb.tick_params(axis='both', which='major', length=6 * px, width=5 * px, color=DARK, pad=9)
axb.tick_params(axis='y', which='major', pad=3)
axb.tick_params(axis='y', which='minor', length=0)
axb.grid(axis='y', which='major', color=GRID, lw=6 * px)
axb.grid(axis='y', which='minor', color=GRID, lw=3 * px)
axb.grid(axis='x', which='major', color=GRID, lw=5 * px)
axb.set_axisbelow(True)
frame(axb, 6)
for lab, shift in zip(axb.get_xticklabels(), [3, 7, 6, 2, 4, 7]):
    lab.set_transform(lab.get_transform() + ScaledTranslation(shift / 100, 0, fig.dpi_scale_trans))

group_offsets = [-.3375, -.1125, .1125, .3375]
dot_colors = ['#a5d2e2', '#b4b4b4', '#f9992b', '#e8222a']
box_colors = ['#bcdde9', '#bdbdbd', '#f9a63f', '#f6a89d']
clouds = [del_cloud, dip_cloud, gain_cloud]
extras = [del_extra, dip_extra, gain_extra, high_extra]
stats = [(del_q1, del_med, del_q3, del_lo, del_hi), (dip_q1, dip_med, dip_q3, dip_lo, dip_hi),
         (gain_q1, gain_med, gain_q3, gain_lo, gain_hi), (high_q1, high_med, high_q3, high_lo, high_hi)]

for g in range(4):
    xs, ys = [], []
    if g < 3:
        for c, vals in enumerate(clouds[g]):
            for i, v in enumerate(vals):
                xs.append(c + group_offsets[g] + jitter[i % len(jitter)] * .085)
                ys.append(v)
    xs += [p[0] for p in extras[g]]
    ys += [p[1] for p in extras[g]]
    axb.scatter(xs, ys, s=46, color=dot_colors[g], linewidths=0, zorder=3)
    q1, med, q3, lo, hi = stats[g]
    bxp_stats = [dict(med=med[i], q1=q1[i], q3=q3[i], whislo=lo[i], whishi=hi[i], fliers=[]) for i in range(len(cells))]
    axb.bxp(bxp_stats, positions=[i + group_offsets[g] for i in range(len(cells))], widths=.205, patch_artist=True,
            showfliers=False, showcaps=False, manage_ticks=False,
            boxprops=dict(facecolor=box_colors[g], edgecolor='#333333', linewidth=5.5 * px, alpha=.8),
            whiskerprops=dict(color='#333333', linewidth=4.5 * px),
            medianprops=dict(color='#333333', linewidth=6 * px), zorder=4)

axb.text(.137, 1.815, '\u00b7', fontsize=30, ha='center', va='center', color='black', fontweight='bold')
axb.text(.374, 1.761, '*\n*', fontsize=36, ha='center', va='center', color='black', family='DejaVu Sans', linespacing=.37)
axb.text(1.703, 1.80, '*', fontsize=36, ha='center', va='center', color='black', family='DejaVu Sans')

fig.text(fx(751), fy(1368), 'Copy Number', fontsize=24, ha='left', va='center', color='#1a1a1a', zorder=8)
for i, name in enumerate(copy_groups):
    yc = 1421 + i * 40
    fig.add_artist(Line2D([fx(771), fx(771)], [fy(yc - 17), fy(yc + 17)], color='#333333', lw=4 * px, zorder=7))
    fig.add_artist(Rectangle((fx(755), fy(yc + 12)), 32 / W, 24 / H, transform=fig.transFigure,
                             facecolor=box_colors[i], edgecolor='#333333', lw=4.5 * px, zorder=7))
    fig.add_artist(Line2D([fx(755), fx(787)], [fy(yc), fy(yc)], color='#333333', lw=4.5 * px, zorder=7))
    fig.text(fx(811), fy(yc + 2), name, fontsize=24, ha='left', va='center', color='#1a1a1a', zorder=8)

fig.text(fx(62), fy(1635), 'Infiltration Level', rotation=90, fontsize=24, ha='center', va='center', color='#1a1a1a')

# ---- panel C
axc = add_axes(1283, 1268, 1921, 1891)
axc.set_xlim((1283 - 1355.9) / 123.1, (1921 - 1355.9) / 123.1)
axc.set_ylim((1636.7 - 1891) / 45.3, (1636.7 - 1268) / 45.3)
violins = [(c1_y, c1_w, '#f0716f'), (c2_y, c2_w, '#77a535'), (c3_y, c3_w, '#1fb5bc'), (c4_y, c4_w, '#9a78be')]
for i, (vy, vw, col) in enumerate(violins):
    axc.add_patch(PathPatch(band([i - w for w in vw], vy, [i + w for w in vw], vy), facecolor=col, edgecolor='none', zorder=2))
axc.bxp([dict(med=sub_med[i], q1=sub_q1[i], q3=sub_q3[i], whislo=sub_lo[i], whishi=sub_hi[i], fliers=[]) for i in range(4)],
        positions=range(4), widths=.11, patch_artist=True, showfliers=False, showcaps=False, manage_ticks=False,
        boxprops=dict(facecolor='white', edgecolor='#2b2b2b', linewidth=3.5 * px),
        whiskerprops=dict(color='#2b2b2b', linewidth=4 * px),
        medianprops=dict(color='#2b2b2b', linewidth=6 * px), zorder=3)
axc.scatter([0, 0], c1_outliers, s=30, color='#2b2b2b', linewidths=0, zorder=4)
axc.plot([3.96, 4.04], [c6_value, c6_value], color='#2b2b2b', lw=8 * px, solid_capstyle='round', zorder=4)
axc.set_xticks(range(5))
axc.set_xticklabels(subtypes, fontsize=24, color='#1a1a1a')
axc.set_yticks([7.5, 5, 2.5, 0, -2.5, -5])
axc.set_yticklabels(['7.5', '5.0', '2.5', '0.0', '-2.5', '-0.5'], fontsize=23, color='#1a1a1a', rotation=90, va='center')
axc.tick_params(axis='both', length=7 * px, width=2.5 * px, color='#333333', pad=5)
axc.tick_params(axis='x', pad=13)
for lab in axc.get_xticklabels():
    lab.set_transform(lab.get_transform() + ScaledTranslation(.03, 0, fig.dpi_scale_trans))
for s in axc.spines.values():
    s.set_linewidth(2.4 * px)
    s.set_color('#555555')

for line, y in zip(['LIHC :: ZNF320_exp', 'Pv=2.77e-04', 'n=C1 22,C2 45,C3 135,C4 159,C6 1'], [1175, 1210, 1247]):
    fig.text(fx(1631), fy(y), line, fontsize=24, ha='center', va='center', color='#1a1a1a')
fig.text(fx(1202), fy(1582), 'Expression (log2CPM)', rotation=90, fontsize=24, ha='center', va='center', color='#1a1a1a')
fig.text(fx(1605), fy(1970), 'Subtype', fontsize=24, ha='center', va='center', color='#1a1a1a')

# panel letters
for letter, x, y, size in [('A', 6, 49, 44), ('B', 40, 1304, 41), ('C', 1184, 1225, 44)]:
    fig.text(fx(x), fy(y), letter, fontsize=size, fontweight='bold', family='Liberation Sans', ha='left', va='baseline', color='black')

fig.savefig('out.png', dpi=100)
